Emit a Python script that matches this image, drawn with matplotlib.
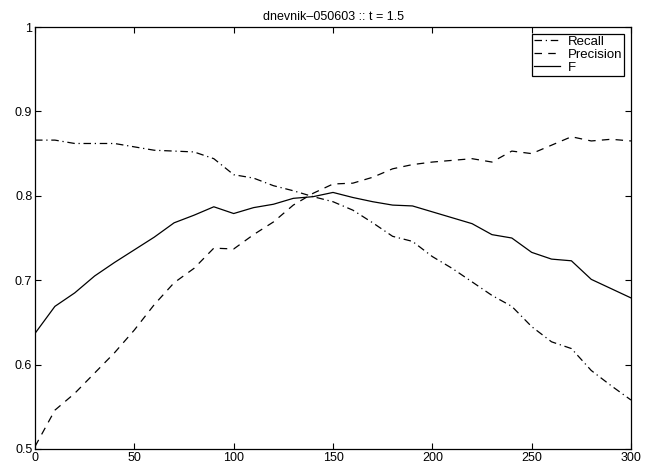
import numpy as np
import matplotlib
matplotlib.use("Agg")
import matplotlib.pyplot as plt

plt.rcParams['font.family'] = ['Liberation Sans', 'DejaVu Sans']

# x positions (threshold)
x = np.arange(0, 301, 10)

recall = [0.866, 0.866, 0.862, 0.862, 0.862, 0.858, 0.854, 0.853, 0.852, 0.844,
          0.825, 0.821, 0.812, 0.806, 0.799, 0.793, 0.783, 0.768, 0.752, 0.746,
          0.728, 0.714, 0.698, 0.682, 0.669, 0.645, 0.627, 0.619, 0.593, 0.575,
          0.558]
precision = [0.503, 0.546, 0.566, 0.590, 0.614, 0.641, 0.671, 0.697, 0.714, 0.738,
             0.737, 0.754, 0.769, 0.789, 0.803, 0.814, 0.815, 0.822, 0.832, 0.837,
             0.840, 0.842, 0.844, 0.840, 0.853, 0.850, 0.860, 0.870, 0.865, 0.867,
             0.865]
fscore = [0.637, 0.669, 0.685, 0.705, 0.721, 0.736, 0.751, 0.768, 0.777, 0.787,
          0.779, 0.786, 0.790, 0.797, 0.799, 0.804, 0.798, 0.793, 0.789, 0.788,
          0.781, 0.774, 0.767, 0.754, 0.750, 0.733, 0.725, 0.723, 0.701, 0.690,
          0.679]

fig = plt.figure(figsize=(6.56, 4.66), dpi=100)
ax = fig.add_axes([0.0534, 0.0365, 0.9085, 0.9055])

lw = 0.9
ax.plot(x, recall, color='k', lw=lw, dashes=(6, 3, 1, 3), label='Recall')
ax.plot(x, precision, color='k', lw=lw, dashes=(6, 5), label='Precision')
ax.plot(x, fscore, color='k', lw=lw, linestyle='-', label='F')

ax.set_xlim(0, 300)
ax.set_ylim(0.5, 1)
ax.set_xticks([0, 50, 100, 150, 200, 250, 300])
ax.set_yticks([0.5, 0.6, 0.7, 0.8, 0.9, 1])
ax.set_yticklabels(['0.5', '0.6', '0.7', '0.8', '0.9', '1'])
ax.tick_params(direction='in', top=True, right=True, labelsize=9, length=4,
               width=0.8, pad=2)
for s in ax.spines.values():
    s.set_linewidth(0.9)

ax.set_title('dnevnik\u2013050603 :: t = 1.5', fontsize=9, pad=5)

leg = ax.legend(loc='upper right', fontsize=9.5, frameon=True, fancybox=False,
                edgecolor='k', framealpha=1, handlelength=2.0, borderpad=0.15,
                labelspacing=0.05, borderaxespad=0.5, handletextpad=0.6)
leg.get_frame().set_linewidth(0.9)

fig.savefig('out.png', dpi=100)
